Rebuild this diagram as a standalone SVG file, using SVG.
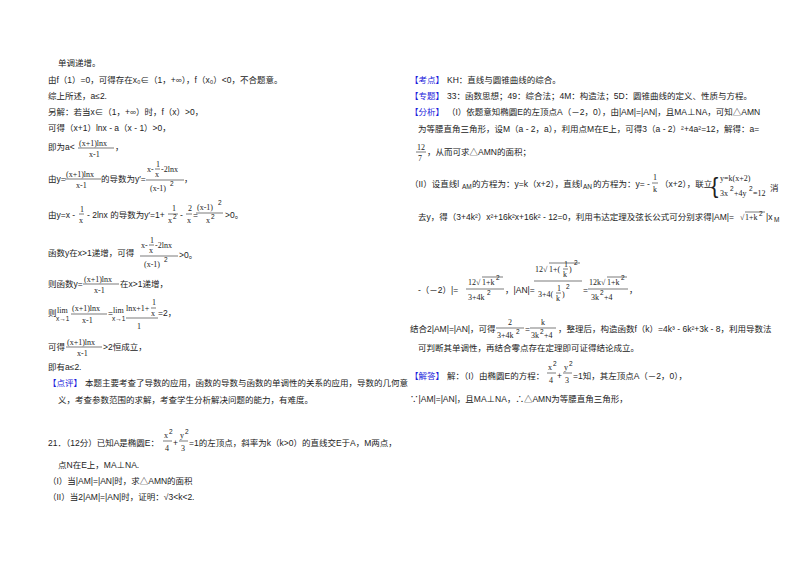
<svg xmlns="http://www.w3.org/2000/svg" width="800" height="565" viewBox="0 0 800 565">
<style>
text{font-family:"Liberation Sans","Noto Sans CJK SC",sans-serif;font-size:8.5px;fill:#222}
.s{font-size:6.5px}
.m{font-family:"Liberation Serif","Noto Sans CJK SC",serif;font-size:8px}
.b{fill:#1a1adb}
line{stroke:#222;stroke-width:0.6}
</style>
<rect width="800" height="565" fill="#fff"/>
<g id="left">
<text x="58" y="66">单调递增。</text>
<text x="48" y="83">由f（1）=0，可得存在x₀∈（1，+∞），f（x₀）&lt;0，不合题意。</text>
<text x="48" y="99">综上所述，a≤2.</text>
<text x="48" y="115">另解：若当x∈（1，+∞）时，f（x）&gt;0，</text>
<text x="48" y="131">可得（x+1）lnx - a（x - 1）&gt;0，</text>
<text x="48" y="150">即为a&lt;</text>
<text class="m" x="79" y="146">(x+1)lnx</text><line x1="78" y1="148" x2="114" y2="148"/><text class="m" x="89" y="157">x-1</text><text x="115" y="150">，</text>
<text x="48" y="182">由y=</text>
<text class="m" x="66" y="177">(x+1)lnx</text><line x1="65" y1="179" x2="101" y2="179"/><text class="m" x="76" y="188">x-1</text>
<text x="101" y="182">的导数为y′=</text>
<text class="m" x="147" y="172">x-</text><text class="m" x="156" y="167">1</text><line x1="155" y1="169" x2="160" y2="169"/><text class="m" x="155" y="177">x</text><text class="m" x="161" y="172">-2lnx</text>
<line x1="146" y1="180" x2="184" y2="180"/><text class="m" x="150" y="191">(x-1)</text><text class="s" x="170" y="186">2</text><text x="184" y="182">，</text>
<text x="48" y="218">由y=x - </text><text class="m" x="80" y="212">1</text><line x1="79" y1="214" x2="84" y2="214"/><text class="m" x="79" y="223">x</text>
<text x="87" y="218">- 2lnx 的导数为y′=1+</text><text class="m" x="172" y="211">1</text><line x1="168" y1="214" x2="178" y2="214"/><text class="m" x="168" y="223">x</text><text class="s" x="173" y="219">2</text>
<text x="180" y="218">-</text><text class="m" x="188" y="211">2</text><line x1="186" y1="214" x2="192" y2="214"/><text class="m" x="187" y="223">x</text><text x="193" y="218">=</text>
<text class="m" x="197" y="210">(x-1)</text><text class="s" x="218" y="205">2</text><line x1="196" y1="213" x2="223" y2="213"/><text class="m" x="206" y="223">x</text><text class="s" x="211" y="219">2</text><text x="225" y="218">&gt;0。</text>
<text x="48" y="256">函数y在x&gt;1递增，可得</text>
<text class="m" x="141" y="248">x-</text><text class="m" x="150" y="243">1</text><line x1="149" y1="245" x2="154" y2="245"/><text class="m" x="149" y="253">x</text><text class="m" x="155" y="248">-2lnx</text>
<line x1="140" y1="256" x2="178" y2="256"/><text class="m" x="144" y="267">(x-1)</text><text class="s" x="164" y="262">2</text><text x="179" y="258">&gt;0。</text>
<text x="48" y="287">则函数y=</text>
<text class="m" x="84" y="282">(x+1)lnx</text><line x1="83" y1="284" x2="119" y2="284"/><text class="m" x="94" y="293">x-1</text><text x="120" y="287">在x&gt;1递增，</text>
<text x="48" y="316">则</text><text class="m" x="57" y="313">lim</text><text class="s" x="56" y="321">x→1</text>
<text class="m" x="72" y="311">(x+1)lnx</text><line x1="71" y1="314" x2="107" y2="314"/><text class="m" x="82" y="323">x-1</text>
<text x="108" y="316">=</text><text class="m" x="113" y="313">lim</text><text class="s" x="112" y="321">x→1</text>
<text class="m" x="126" y="311">lnx+1+</text><text class="m" x="152" y="305">1</text><line x1="151" y1="308" x2="156" y2="308"/><text class="m" x="151" y="316">x</text>
<line x1="126" y1="318" x2="158" y2="318"/><text class="m" x="137" y="329">1</text><text x="158" y="316">=2，</text>
<text x="48" y="350">可得</text>
<text class="m" x="67" y="345">(x+1)lnx</text><line x1="66" y1="347" x2="102" y2="347"/><text class="m" x="77" y="356">x-1</text><text x="103" y="350">&gt;2恒成立，</text>
<text x="48" y="370">即有a≤2.</text>
<text class="b" x="48" y="386">【点评】</text><text x="85" y="386">本题主要考查了导数的应用，函数的导数与函数的单调性的关系的应用，导数的几何意</text>
<text x="58" y="403">义，考查参数范围的求解，考查学生分析解决问题的能力，有难度。</text>
<text x="48" y="446">21．（12分）已知A是椭圆E：</text>
<text class="m" x="164" y="438">x</text><text class="s" x="169" y="434">2</text><line x1="163" y1="441" x2="172" y2="441"/><text class="m" x="165" y="451">4</text>
<text x="173" y="446">+</text>
<text class="m" x="180" y="438">y</text><text class="s" x="185" y="434">2</text><line x1="179" y1="441" x2="188" y2="441"/><text class="m" x="181" y="451">3</text>
<text x="189" y="446">=1的左顶点，斜率为k（k&gt;0）的直线交E于A，M两点，</text>
<text x="58" y="468">点N在E上，MA⊥NA.</text>
<text x="48" y="484">（I）当|AM|=|AN|时，求△AMN的面积</text>
<text x="48" y="500">（II）当2|AM|=|AN|时，证明：√3&lt;k&lt;2.</text>
</g>
<g id="right">
<text class="b" x="410" y="83">【考点】</text><text x="447" y="83">KH：直线与圆锥曲线的综合。</text>
<text class="b" x="410" y="99">【专题】</text><text x="447" y="99">33：函数思想；49：综合法；4M：构造法；5D：圆锥曲线的定义、性质与方程。</text>
<text class="b" x="410" y="115">【分析】</text><text x="447" y="115">（I）依题意知椭圆E的左顶点A（－2，0），由|AM|=|AN|，且MA⊥NA，可知△AMN</text>
<text x="418" y="132">为等腰直角三角形，设M（a - 2，a），利用点M在E上，可得3（a - 2）²+4a²=12，解得：a=</text>
<text class="m" x="417" y="150">12</text><line x1="416" y1="152" x2="426" y2="152"/><text class="m" x="418" y="161">7</text><text x="427" y="155">，从而可求△AMN的面积；</text>
<text x="410" y="187">（II）设直线l</text><text class="s" x="462" y="189">AM</text><text x="472" y="187">的方程为：y=k（x+2），直线l</text><text class="s" x="583" y="189">AN</text><text x="593" y="187">的方程为：y= -</text>
<text class="m" x="653" y="180">1</text><line x1="652" y1="183" x2="658" y2="183"/><text class="m" x="653" y="192">k</text>
<text x="660" y="187">（x+2），联立</text>
<text x="711" y="193" style="font-size:22px">{</text>
<text class="m" x="720" y="181">y=k(x+2)</text><text class="m" x="720" y="196">3x</text><text class="s" x="730" y="191">2</text><text class="m" x="734" y="196">+4y</text><text class="s" x="749" y="191">2</text><text class="m" x="753" y="196">=12</text>
<text x="770" y="191">消</text>
<text x="418" y="220">去y，得（3+4k²）x²+16k²x+16k² - 12=0，利用韦达定理及弦长公式可分别求得|AM|=</text>
<text class="m" x="740" y="220">√</text><line x1="745" y1="212" x2="765" y2="212"/><text class="m" x="745" y="220">1+k</text><text class="s" x="759" y="216">2</text><text x="766" y="220">|x</text><text class="s" x="774" y="222">M</text>
<text x="418" y="293">-（－2）|=</text>
<text class="m" x="468" y="285">12√</text><line x1="482" y1="277" x2="503" y2="277"/><text class="m" x="482" y="285">1+k</text><text class="s" x="496" y="280">2</text>
<line x1="466" y1="289" x2="504" y2="289"/><text class="m" x="468" y="300">3+4k</text><text class="s" x="487" y="295">2</text>
<text x="505" y="293">，|AN|=</text>
<text class="m" x="535" y="272">12√</text><line x1="549" y1="263" x2="580" y2="263"/><text class="m" x="549" y="272">1+(</text><text class="m" x="564" y="267">1</text><line x1="563" y1="269" x2="568" y2="269"/><text class="m" x="563" y="277">k</text><text class="m" x="569" y="272">)</text><text class="s" x="574" y="265">2</text>
<line x1="534" y1="281" x2="582" y2="281"/><text class="m" x="538" y="297">3+4(</text><text class="m" x="557" y="291">1</text><line x1="556" y1="293" x2="561" y2="293"/><text class="m" x="556" y="301">k</text><text class="m" x="562" y="297">)</text><text class="s" x="566" y="289">2</text>
<text x="583" y="293">=</text>
<text class="m" x="589" y="285">12k√</text><line x1="607" y1="277" x2="627" y2="277"/><text class="m" x="607" y="285">1+k</text><text class="s" x="621" y="280">2</text>
<line x1="588" y1="289" x2="628" y2="289"/><text class="m" x="591" y="300">3k</text><text class="s" x="600" y="295">2</text><text class="m" x="604" y="300">+4</text><text x="629" y="293">，</text>
<text x="410" y="332">结合2|AM|=|AN|，可得</text>
<text class="m" x="508" y="325">2</text><line x1="496" y1="328" x2="524" y2="328"/><text class="m" x="497" y="338">3+4k</text><text class="s" x="516" y="334">2</text>
<text x="525" y="332">=</text>
<text class="m" x="541" y="325">k</text><line x1="530" y1="328" x2="556" y2="328"/><text class="m" x="531" y="338">3k</text><text class="s" x="540" y="334">2</text><text class="m" x="544" y="338">+4</text>
<text x="558" y="332">，整理后，构造函数f（k）=4k³ - 6k²+3k - 8，利用导数法</text>
<text x="418" y="351">可判断其单调性，再结合零点存在定理即可证得结论成立。</text>
<text class="b" x="410" y="379">【解答】</text><text x="447" y="379">解：（I）由椭圆E的方程：</text>
<text class="m" x="548" y="370">x</text><text class="s" x="553" y="366">2</text><line x1="547" y1="373" x2="556" y2="373"/><text class="m" x="549" y="383">4</text>
<text x="557" y="379">+</text>
<text class="m" x="564" y="370">y</text><text class="s" x="569" y="366">2</text><line x1="563" y1="373" x2="572" y2="373"/><text class="m" x="565" y="383">3</text>
<text x="573" y="379">=1知，其左顶点A（－2，0），</text>
<text x="410" y="402">∵|AM|=|AN|，且MA⊥NA，∴△AMN为等腰直角三角形，</text>
</g>
</svg>
